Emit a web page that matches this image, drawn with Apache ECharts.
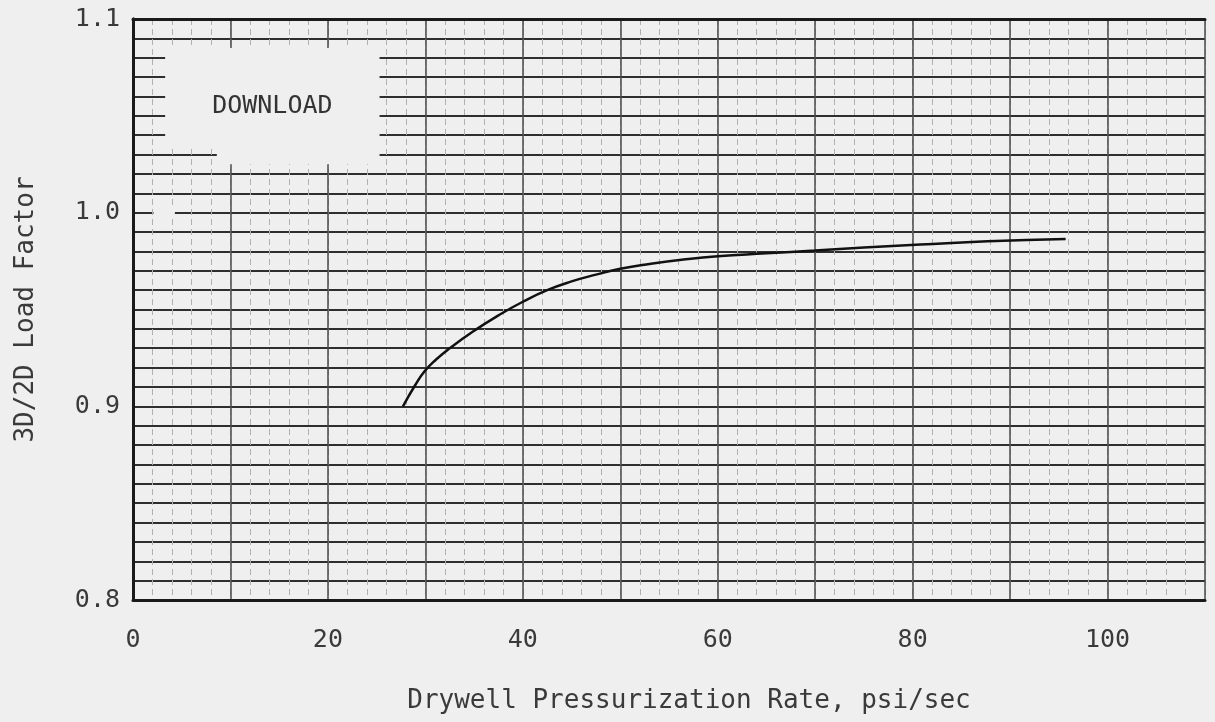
<!DOCTYPE html>
<html>
<head>
<meta charset="utf-8">
<title>3D/2D Load Factor</title>
<script src="https://cdn.jsdelivr.net/npm/echarts@6/dist/echarts.min.js"></script>
<style>
  html, body { margin: 0; padding: 0; background: #efefef; }
  #chart { width: 1215px; height: 722px; }
</style>
</head>
<body>
<div id="chart"></div>
<script>
// curve
var rateData = [27.7, 28.9, 29.9, 31.1, 32.5, 35.0, 37.5, 40.0, 42.5, 45.0, 47.5, 50.0, 53.0, 56.5, 60.0, 65.0, 70.0, 75.0, 80.8, 87.7, 95.7]
var factorData = [0.900, 0.9105, 0.918, 0.9242, 0.930, 0.939, 0.947, 0.954, 0.960, 0.9645, 0.968, 0.971, 0.9735, 0.9758, 0.9775, 0.979, 0.9805, 0.982, 0.9835, 0.9852, 0.9864]
var xTickLabels = [0, 20, 40, 60, 80, 100]
var yTickLabels = [0.8, 0.9, 1.0, 1.1]

var font = 'DejaVu Sans Mono'
var bg = '#efefef'

var curve = []
for (var i = 0; i < rateData.length; i++) {
  curve.push([rateData[i], factorData[i]])
}

var chart = echarts.init(document.getElementById('chart'))

chart.setOption({
  backgroundColor: bg,
  animation: false,
  grid: {
    left: 133,
    right: 10,
    top: 19,
    bottom: 122,
    outerBoundsMode: 'none'
  },
  xAxis: [
    {
      // minor vertical lines every 2
      type: 'value',
      min: 0,
      max: 110,
      interval: 2,
      name: 'Drywell Pressurization Rate, psi/sec',
      nameLocation: 'middle',
      nameGap: 88,
      nameTextStyle: { fontFamily: font, fontSize: 26, color: '#3a3a3a', padding: [0, 0, 0, 40] },
      axisLine: { show: true, lineStyle: { color: '#1a1a1a', width: 3 } },
      axisTick: { show: false },
      axisLabel: {
        margin: 28,
        fontFamily: font,
        fontSize: 25,
        color: '#3a3a3a',
        formatter: function (v) {
          return xTickLabels.indexOf(Math.round(v)) >= 0 ? String(Math.round(v)) : ''
        }
      },
      splitLine: { show: true, lineStyle: { color: '#b0b0b0', width: 1, type: [6, 4] } }
    },
    {
      // major vertical lines every 10
      type: 'value',
      position: 'top',
      min: 0,
      max: 110,
      interval: 10,
      axisLine: { show: true, lineStyle: { color: '#1a1a1a', width: 3 } },
      axisTick: { show: false },
      axisLabel: { show: false },
      splitLine: { show: true, lineStyle: { color: '#4a4a4a', width: 1.5 } }
    }
  ],
  yAxis: [
    {
      type: 'value',
      min: 0.8,
      max: 1.1,
      interval: 0.01,
      name: '3D/2D Load Factor',
      nameLocation: 'middle',
      nameGap: 94,
      nameTextStyle: { fontFamily: font, fontSize: 26, color: '#3a3a3a' },
      axisLine: { show: true, lineStyle: { color: '#1a1a1a', width: 3 } },
      axisTick: { show: false },
      axisLabel: {
        margin: 13,
        fontFamily: font,
        fontSize: 25,
        color: '#3a3a3a',
        formatter: function (v) {
          var r = Math.round(v * 10) / 10
          return (Math.abs(v - r) < 1e-6 && yTickLabels.indexOf(r) >= 0) ? r.toFixed(1) : ''
        }
      },
      splitLine: { show: true, lineStyle: { color: '#2e2e2e', width: 2 } }
    },
    {
      type: 'value',
      position: 'right',
      min: 0.8,
      max: 1.1,
      interval: 0.1,
      axisLine: { show: true, lineStyle: { color: '#1a1a1a', width: 3 } },
      axisTick: { show: false },
      axisLabel: { show: false },
      splitLine: { show: false }
    }
  ],
  series: [
    {
      name: 'load factor',
      type: 'line',
      xAxisIndex: 0,
      yAxisIndex: 0,
      data: curve,
      smooth: 0.5,
      showSymbol: false,
      lineStyle: { color: '#111', width: 2.5 },
      markArea: {
        silent: true,
        itemStyle: { color: bg },
        label: { show: false },
        data: [
          [
            {
              xAxis: 3.3, yAxis: 1.085,
              label: {
                show: true,
                position: 'inside',
                fontFamily: font,
                fontSize: 25,
                color: '#333',
                offset: [0, 10]
              },
              name: 'DOWNLOAD'
            },
            { xAxis: 25.3, yAxis: 1.035 }
          ],
          [
            { xAxis: 8.6, yAxis: 1.035 },
            { xAxis: 25.3, yAxis: 1.025 }
          ],
          // small break in the 1.0 line near the axis
          [
            { xAxis: 2.1, yAxis: 1.003 },
            { xAxis: 4.3, yAxis: 0.997 }
          ]
        ]
      }
    }
  ]
})
</script>
</body>
</html>
